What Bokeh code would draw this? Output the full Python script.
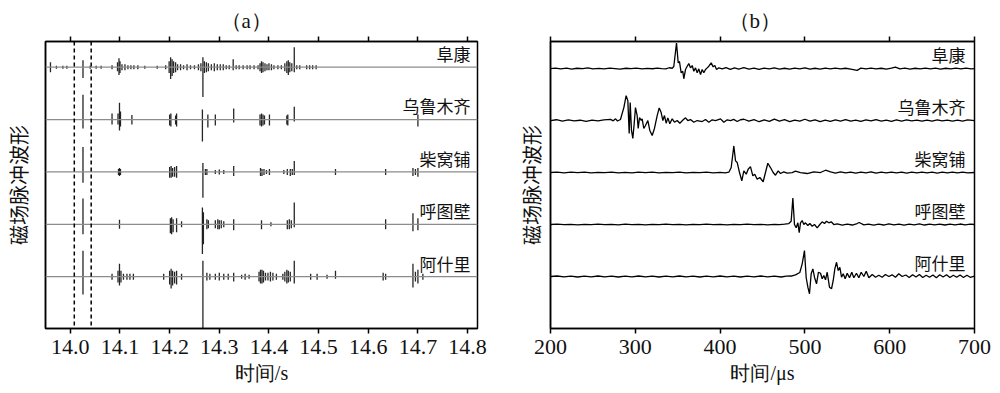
from bokeh.plotting import figure
from bokeh.layouts import row
from bokeh.models import LinearAxis, FixedTicker, Span, Label, Title
from bokeh.embed import file_html
from bokeh.resources import INLINE

stations = ["阜康", "乌鲁木齐", "柴窝铺", "呼图壁", "阿什里"]
titles = ["（a）", "（b）"]

# ---------------- panel (a): pulse trains, spikes (time s, up, down) ----------------
fk_a_t = [13.960, 13.972, 13.985, 13.993, 14.0255, 14.040, 14.052, 14.062, 14.084, 14.095, 14.098, 14.100,
          14.104, 14.110, 14.116, 14.122, 14.128, 14.136, 14.150, 14.175, 14.192, 14.199, 14.202, 14.205,
          14.208, 14.212, 14.216, 14.222, 14.228, 14.235, 14.242, 14.250, 14.258, 14.263, 14.267, 14.270,
          14.274, 14.278, 14.284, 14.290, 14.296, 14.302, 14.308, 14.314, 14.320, 14.328, 14.334, 14.340,
          14.348, 14.356, 14.362, 14.370, 14.378, 14.382, 14.385, 14.388, 14.392, 14.396, 14.400, 14.405,
          14.410, 14.418, 14.425, 14.432, 14.436, 14.439, 14.442, 14.446, 14.451, 14.456, 14.462, 14.476,
          14.482, 14.488, 14.495]
fk_a_up = [5, 1.5, 1.5, 1.5, 7, 1.5, 1.5, 1.5, 2, 5, 9, 6,
           3, 3, 2, 2, 2, 2, 1.5, 1.5, 2, 6, 10, 8,
           6, 5, 3, 3, 2, 3, 2, 2, 3, 4, 10, 6,
           5, 4, 3, 4, 3, 3, 3, 2, 2, 8, 2, 2,
           2, 2, 2, 2, 2, 4, 6, 5, 4, 3, 4, 3,
           2, 2, 2, 4, 6, 7, 5, 4, 20, 2, 2, 2,
           2, 2, 2]
fk_a_dn = [5, 1.5, 1.5, 1.5, 11, 1.5, 1.5, 1.5, 2, 4, 8, 6,
           3, 3, 2, 2, 2, 2, 1.5, 1.5, 2, 6, 12, 9,
           6, 5, 3, 3, 2, 3, 2, 2, 3, 4, 30, 6,
           5, 4, 3, 4, 3, 3, 3, 2, 2, 3, 2, 2,
           2, 2, 2, 2, 2, 4, 6, 5, 4, 3, 3, 3,
           2, 2, 2, 4, 6, 8, 5, 4, 5, 2, 2, 2,
           2, 2, 2]

ur_a_t = [14.0255, 14.084, 14.096, 14.099, 14.101, 14.124, 14.200, 14.2025, 14.212, 14.214, 14.266, 14.277,
          14.292, 14.329, 14.382, 14.385, 14.388, 14.391, 14.401, 14.436, 14.438, 14.451, 14.700]
ur_a_up = [25, 6, 6, 17, 8, 4.5, 5, 6, 4, 6, 10, 5,
           5, 11, 5, 6, 5, 4, 5, 4, 5, 13, 5]
ur_a_dn = [9, 5, 5, 11, 7, 5, 6, 7, 5, 7, 22, 8,
           6, 3, 6, 7, 6, 5, 6, 5, 6, 2, 7]

cw_a_t = [14.0255, 14.097, 14.099, 14.101, 14.200, 14.203, 14.206, 14.210, 14.214, 14.267, 14.272, 14.275,
          14.292, 14.300, 14.309, 14.329, 14.383, 14.386, 14.390, 14.395, 14.401, 14.430, 14.437, 14.443,
          14.447, 14.451, 14.534, 14.635, 14.690, 14.695, 14.700]
cw_a_up = [25, 3, 4, 3, 5, 6, 4, 5, 6, 9, 3, 3,
           2, 2.5, 2, 6, 4, 3, 3, 2, 3, 2, 3, 3,
           3, 11, 3, 3, 4, 3, 4]
cw_a_dn = [11, 3, 4, 3, 6, 6, 5, 5, 6, 26, 3, 3,
           2, 2.5, 2, 4, 4, 4, 3, 2, 3, 2, 3, 4,
           3, 3, 3, 3, 4, 3, 5]

ht_a_t = [14.0255, 14.099, 14.2015, 14.204, 14.207, 14.214, 14.224, 14.266, 14.268, 14.275, 14.278, 14.292,
          14.297, 14.300, 14.304, 14.309, 14.329, 14.385, 14.404, 14.437, 14.441, 14.445, 14.451, 14.635,
          14.690, 14.700]
ht_a_up = [26, 4.5, 6, 7, 5, 6, 3, 17, 12, 5, 4, 4,
           5, 4, 4, 3, 5, 4, 2, 4, 5, 4, 22, 5,
           11, 6]
ht_a_dn = [10, 4.5, 9, 10, 8, 8, 3, 30, 20, 5, 4, 4,
           5, 5, 4, 3, 6, 5, 2, 5, 5, 4, 3, 5,
           7, 6]

as_a_t = [14.0255, 14.084, 14.096, 14.099, 14.102, 14.107, 14.114, 14.120, 14.127, 14.188, 14.200, 14.203,
          14.206, 14.210, 14.214, 14.224, 14.267, 14.275, 14.281, 14.292, 14.300, 14.309, 14.318, 14.329,
          14.345, 14.352, 14.360, 14.380, 14.383, 14.386, 14.389, 14.393, 14.398, 14.403, 14.408, 14.415,
          14.428, 14.432, 14.436, 14.439, 14.443, 14.451, 14.484, 14.497, 14.517, 14.534, 14.630, 14.635,
          14.690, 14.695, 14.700, 14.710]
as_a_up = [26, 3, 6, 13, 6, 3, 3, 3, 3, 3, 6, 8,
           6, 5, 6, 3, 16, 4, 3, 3, 4, 3, 3, 4,
           2, 3, 2, 5, 7, 7, 6, 4, 4, 5, 4, 3,
           3, 5, 7, 6, 5, 16, 3, 3, 2, 6, 4, 3,
           13, 5, 7, 3]
as_a_dn = [18, 3, 6, 9, 6, 3, 3, 3, 3, 3, 8, 12,
           9, 7, 8, 3, 52, 4, 3, 3, 4, 3, 3, 5,
           2, 3, 2, 5, 7, 7, 6, 4, 4, 5, 4, 3,
           3, 5, 7, 6, 5, 7, 3, 3, 2, 2, 4, 3,
           11, 5, 7, 3]

a_ticks = [14.0, 14.1, 14.2, 14.3, 14.4, 14.5, 14.6, 14.7, 14.8]
a_tick_labels = ["14.0", "14.1", "14.2", "14.3", "14.4", "14.5", "14.6", "14.7", "14.8"]
a_window = [14.008, 14.042]   # dashed selection window (s)

# ---------------- panel (b): single-pulse waveforms (time µs, amplitude a.u.) ----------------
fk_b_t = [200, 206, 212, 219, 225, 231, 238, 244, 250, 257, 263, 270, 276, 282, 289, 295, 301, 308, 314, 320,
          326, 331, 336, 340, 343.5, 345.4, 348.6, 350.6, 352.1, 354.1, 356, 357.2, 359.2, 361.2, 363.1, 365.1,
          367.1, 369, 371, 373, 374.9, 376.9, 378.9, 380.8, 382.8, 384.8, 386.7, 389.5, 391.8, 393.8, 395.8,
          398.5, 402.5, 407, 412, 417, 422, 428, 434, 440, 446, 452, 458, 464, 470, 476, 482, 488, 494, 500,
          506, 512, 518, 524, 530, 536, 542, 548, 554, 561.6, 566, 572, 578, 584, 590, 596, 602, 606.8, 612,
          618, 624, 630, 636, 642, 648, 654, 660, 666, 672, 678, 684, 690, 696, 700]
fk_b_v = [0, 0.5, -0.3, 0.4, -0.5, 0.3, 0, 0.6, -0.4, 0.2, -0.3, 0.5, 0, -0.5, 0.3, 0, 0.4, -0.4, 0.2, -0.2,
          0.5, 0, -0.4, 0.8, 0.3, 2, 25.7, 5.7, 7, -4.3, -2.7, -10.3, -1, 2.3, 5, 0.7,
          3, -2.7, 0.7, -4.3, -0.3, -6, -1, -4.3, -1, 0.7, 2.3, 5.7, 1.7, 3, -1,
          0.7, -0.3, 1, -0.8, 0.6, -0.5, 0.8, -0.6, 0.4, -0.8, 0.5, -0.3, 0.7, -0.5, 0.3, -0.6, 0.5, -0.4, 0.6,
          -0.5, 0.3, -0.6, 0.4, -0.3, 0.5, -0.4, 0.3, -0.5, -1.8, 0.4, -0.3, 0.5, -0.4, 0.3, -0.5, 0.4, 1.5, -0.3,
          0.4, -0.5, 0.3, -0.4, 0.5, -0.3, 0.4, -0.5, 0.3, -0.4, 0.5, -0.3, 0.4, -0.4, 0]

ur_b_t = [200, 207, 214, 221, 228, 235, 242, 249, 256, 263, 270.8, 274, 276.7, 279, 282.5, 286.5, 289.2, 291.2,
          292.8, 294, 295.5, 297.1, 298.7, 300.2, 302.2, 303.4, 305, 307, 308.1, 310, 312, 314.8, 317.1, 319.9,
          322.6, 325.8, 328.2, 330.5, 332.5, 334.4, 336.4, 338.4, 340.7, 343.5, 346.2, 349.4, 352.5, 356.5,
          359.2, 361.9, 365.1, 369, 373, 378.9, 382.8, 386.7, 390.7, 394.6, 400.5, 404.4, 408.4, 412.3, 416,
          420.2, 424, 428.1, 433.9, 440, 446, 452, 458, 464, 470, 476, 482, 488, 494, 500, 506, 512, 518, 524,
          530, 536, 542, 548, 554, 560, 566, 572, 578, 584, 590, 596, 602, 608, 614, 620, 626, 632, 638, 644,
          650, 656, 662, 668, 674, 680, 686, 692, 700]
ur_b_v = [0, 0.8, -0.5, 0.6, -0.4, 0.3, -0.8, 0.5, -0.3, 0.6, 1.2, -0.3, 1.7, -0.5, 1, 13, 25, 20,
          -13, 18, -10, -18, -3, 13, 5, -8, 3, 0, 1.7, -8, -5, 0, -10, -15,
          -8, 5, 12.7, 8, 0, 5, -2.7, 2.7, -3.3, 1.7, -1.7, 0, -2.7, 0.7,
          2.7, 0, 1, -1.7, 0, -1, 1, -1.7, 0.7, 0, 1.7, -1.7, 0.7, 0, 1.2,
          -1, 0.8, 1.3, -0.7, 1, -1.2, 0.6, -0.8, 1.5, -0.5, 0.8, -1, 0.5, -0.7, 1.3, -0.6, 0.7, -1, 0.4,
          -0.8, 0.6, -0.5, 0.9, -0.7, 0.5, -0.9, 0.6, -0.4, 0.8, -0.6, 0.4, -0.8, 0.6, -0.5, 0.7, -0.4, 0.5, -0.7, 0.4,
          -0.5, 0.6, -0.4, 0.5, -0.6, 0.4, -0.5, 0.6, 0]

cw_b_t = [200, 208, 216, 224, 232, 240, 248, 256, 264, 272, 280, 288, 296, 304, 312, 320, 328, 336, 344, 352,
          360, 368, 376, 384, 392, 400, 406, 410.3, 413.1, 416.2, 418.2, 420.2, 422.9, 425.6, 428, 430.8, 433.1,
          435.8, 438.6, 440.9, 443.7, 446.8, 450.8, 453.5, 456.3, 459.4, 462.6, 465.3, 468.5, 471.2, 475.1,
          479.1, 485, 488.9, 494.8, 502.7, 510.5, 518.4, 524.3, 530.2, 536, 542, 548, 554, 560, 566, 572, 578,
          584, 590, 596, 602, 608, 614, 620, 626, 632, 638, 644, 650, 656, 662, 668, 674, 680, 686, 692, 700]
cw_b_v = [0, 0.3, -0.3, 0.4, -0.2, 0.3, -0.4, 0.2, -0.2, 0.4, -0.3, 0.2, -0.4, 0.3, -0.2, 0.3, -0.3, 0.2, -0.2, 0.4,
          -0.3, 0.2, -0.2, 0.3, -0.3, 0.2, -0.3, 0.3, 5, 26.7, 11.7, 10, 0, -8.3, 1.7, -1.7, 3.3,
          6, -3.3, -1.7, -6.7, -5, -9.3, 0, 9.3, 5, 0, -2.7, 1.7, -1, 0.7,
          -0.7, 0, 1.3, 0, -1, 0.7, 0, 2.3, 0.7, -0.5, 0.6, -0.4, 0.5, -0.6, 0.4, -0.3, 0.6,
          -0.5, 0.3, -0.4, 0.5, -0.3, 0.4, -0.5, 0.3, -0.4, 0.5, -0.3, 0.4, -0.5, 0.3, -0.4, 0.5, -0.3, 0.4, -0.4, 0]

ht_b_t = [200, 208, 216, 224, 232, 240, 248, 256, 264, 272, 280, 288, 296, 304, 312, 320, 328, 336, 344, 352,
          360, 368, 376, 384, 392, 400, 408, 416, 424, 432, 440, 448, 456, 464, 470, 476, 481, 483.8, 485.8,
          487.7, 489.7, 491.7, 493.3, 494.8, 496.8, 498.7, 500.7, 503.5, 505.8, 508.6, 511.3, 514.5, 517.6,
          520.4, 523.1, 525.5, 528.2, 531, 534.1, 538.1, 544, 549.9, 556, 561.6, 564, 569.5, 575, 581, 587,
          593, 599, 605, 611, 617, 623, 629, 635, 641, 647, 653, 659, 665, 671, 677, 683, 689, 695, 700]
ht_b_v = [0, 0.3, -0.2, 0.2, -0.3, 0.2, -0.2, 0.3, -0.2, 0.2, -0.3, 0.3, -0.2, 0.2, -0.3, 0.2, -0.2, 0.3, -0.2, 0.2,
          -0.3, 0.2, -0.2, 0.3, -0.2, 0.2, -0.3, 0.2, -0.2, 0.3, -0.2, 0.2, -0.3, 0.2, -0.2, 0.3, 1, 3.3, 26.7,
          0, -3.3, 1.7, -8.3, 1.7, 4, 0, 1.7, -1, 1, -1.7, 0, -3.3, 0,
          2.7, 1, 3.3, 1.7, 2.7, 0, 0.7, -0.7, 0.3, -0.5, 1, 2, -0.3, 0.5, -0.6, 0.4,
          -0.5, 0.6, -0.4, 0.5, -0.6, 0.4, -0.3, 0.6, -0.5, 0.4, -0.4, 0.5, -0.5, 0.3, -0.4, 0.5, -0.3, 0.4, 0]

as_b_t = [200, 208, 216, 224, 232, 240, 248, 256, 264, 272, 280, 288, 296, 304, 312, 320, 328, 336, 344, 352,
          360, 368, 376, 384, 392, 400, 408, 416, 424, 432, 440, 448, 456, 464, 472, 478, 484, 488.9, 494,
          496.8, 499.5, 501.5, 503.5, 505.4, 507.4, 509.4, 511.3, 513.7, 516, 518.4, 520.4, 522.3, 524.3, 526.3,
          529, 531.4, 533.4, 535.3, 537.3, 539.3, 541.2, 543.2, 545.2, 547.5, 549.9, 552.6, 555.3, 557.7, 560.8,
          563.6, 566.4, 569.5, 572.3, 575.4, 579.4, 583.3, 587.2, 591.1, 595, 599, 602.9, 606.8, 610.7, 614.7,
          619, 623, 627, 631, 635, 639, 643, 647, 651, 655, 659, 663, 667, 671, 675, 679, 683, 687, 691, 695, 700]
as_b_v = [0, 0.5, -0.4, 0.3, -0.5, 0.4, -0.3, 0.5, -0.4, 0.3, -0.5, 0.4, -0.3, 0.5, -0.4, 0.3, -0.5, 0.4, -0.3, 0.5,
          -0.4, 0.3, -0.5, 0.4, -0.3, 0.5, -0.4, 0.3, -0.5, 0.4, -0.3, 0.5, -0.4, 0.3, -0.5, 0.3, 0.5, 1.7, 4,
          12.7, 26, -1, -10.7, -17.3, 2.7, 7.7, -0.7, -7.3, 4.3, 3.3, -2.3, 1, -3.3, 4.3,
          -10.7, -12.3, -4, 7.7, 14.3, 6, 9.3, -0.7, 2.7, -2.3, 3.3, -1.3, 4.3, -1.3, 3.3,
          -1.3, 4.3, 0, 5.3, -1.3, 2, -0.7, 1.3, -0.7, 2, 0, 1.7, -0.7, 2.7, 0,
          1.5, -1, 1.8, -0.5, 2, -1, 1.2, -0.8, 1.5, -1.2, 1.7, -0.5, 1.8, -1, 1.2, -0.8, 1.5, -1, 1.3, -0.8, 0.5]

b_ticks = [200, 300, 400, 500, 600, 700]
b_tick_labels = ["200", "300", "400", "500", "600", "700"]

a_series = [(fk_a_t, fk_a_up, fk_a_dn), (ur_a_t, ur_a_up, ur_a_dn), (cw_a_t, cw_a_up, cw_a_dn),
            (ht_a_t, ht_a_up, ht_a_dn), (as_a_t, as_a_up, as_a_dn)]
b_series = [(fk_b_t, fk_b_v), (ur_b_t, ur_b_v), (cw_b_t, cw_b_v), (ht_b_t, ht_b_v), (as_b_t, as_b_v)]

A_SCALE = 52.75   # amplitude units per trace spacing (panel a)
B_SCALE = 52.25   # amplitude units per trace spacing (panel b)

SERIF = "Liberation Serif"
CJK = "Noto Sans CJK SC"
H = 392


def style(p, ticks, labels, title, title_off, xlabel, left_standoff):
    p.grid.visible = False
    p.outline_line_color = "black"
    p.outline_line_width = 1.5
    p.title = Title(text=title, align="left", offset=title_off, text_font=SERIF, text_font_size="21px",
                    text_font_style="normal", text_color="#111111", standoff=8)
    xa = p.xaxis[0]
    xa.ticker = FixedTicker(ticks=ticks)
    xa.major_label_overrides = {t: l for t, l in zip(ticks, labels)}
    xa.major_label_text_font = SERIF
    xa.major_label_text_font_size = "22px"
    xa.major_label_text_color = "#111111"
    xa.major_tick_in = 0
    xa.major_tick_out = 5
    xa.minor_tick_out = 0
    xa.minor_tick_in = 0
    xa.axis_line_width = 1.5
    xa.major_tick_line_width = 1.5
    xa.axis_label = xlabel
    xa.axis_label_text_font = SERIF
    xa.axis_label_text_font_size = "20px"
    xa.axis_label_text_font_style = "normal"
    xa.axis_label_text_color = "#111111"
    xa.axis_label_standoff = 5
    xa.major_label_standoff = 6
    top = LinearAxis(ticker=FixedTicker(ticks=ticks), major_label_overrides={t: "" for t in ticks},
                     major_label_text_font_size="1px",
                     major_tick_in=0, major_tick_out=5, minor_tick_out=0, minor_tick_in=0,
                     major_label_standoff=0, axis_line_width=1.5, major_tick_line_width=1.5)
    p.add_layout(top, "above")
    ya = p.yaxis[0]
    ya.ticker = FixedTicker(ticks=[])
    ya.major_tick_out = 0
    ya.minor_tick_out = 0
    ya.axis_line_width = 1.5
    ya.axis_label = "磁场脉冲波形"
    ya.axis_label_text_font = CJK
    ya.axis_label_text_font_size = "20px"
    ya.axis_label_text_font_style = "normal"
    ya.axis_label_text_color = "#111111"
    ya.axis_label_standoff = left_standoff


# ---------------- figure (a) ----------------
pa = figure(width=500, height=H, x_range=(13.95, 14.82), y_range=(-4.99, 0.49),
            output_backend="svg", toolbar_location=None,
            min_border_left=45, min_border_right=23, min_border_top=41, min_border_bottom=63)
style(pa, a_ticks, a_tick_labels, titles[0], 175, "时间/s", 13)

for i, (t, up, dn) in enumerate(a_series):
    base = -i
    pa.add_layout(Span(location=base, dimension="width", line_color="#8c8c8c", line_width=1.2))
    pa.segment(x0=t, x1=t, y0=[base - d / A_SCALE for d in dn], y1=[base + u / A_SCALE for u in up],
               line_color="black", line_alpha=0.85, line_width=1.3)
    pa.add_layout(Label(x=14.82, y=base + 0.02, x_offset=-7, text=stations[i], text_align="right",
                        text_baseline="bottom", text_font=CJK, text_font_size="17px", text_color="#111111"))

for xw in a_window:
    pa.add_layout(Span(location=xw, dimension="height", line_color="black", line_width=1.5,
                       line_dash="4 3"))

# ---------------- figure (b) ----------------
pb = figure(width=499, height=H, x_range=(200, 700), y_range=(-5.0, 0.52),
            output_backend="svg", toolbar_location=None,
            min_border_left=50, min_border_right=25, min_border_top=40, min_border_bottom=64)
style(pb, b_ticks, b_tick_labels, titles[1], 178, "时间/μs", 5)

for i, (t, v) in enumerate(b_series):
    base = -i
    pb.line(t, [base + y / B_SCALE for y in v], line_color="black", line_width=1.3)
    pb.add_layout(Label(x=700, y=base + 0.02, x_offset=-9, text=stations[i], text_align="right",
                        text_baseline="bottom", text_font=CJK, text_font_size="17px", text_color="#111111"))

layout = row(pa, pb)
open("out.html", "w").write(file_html(layout, INLINE))
